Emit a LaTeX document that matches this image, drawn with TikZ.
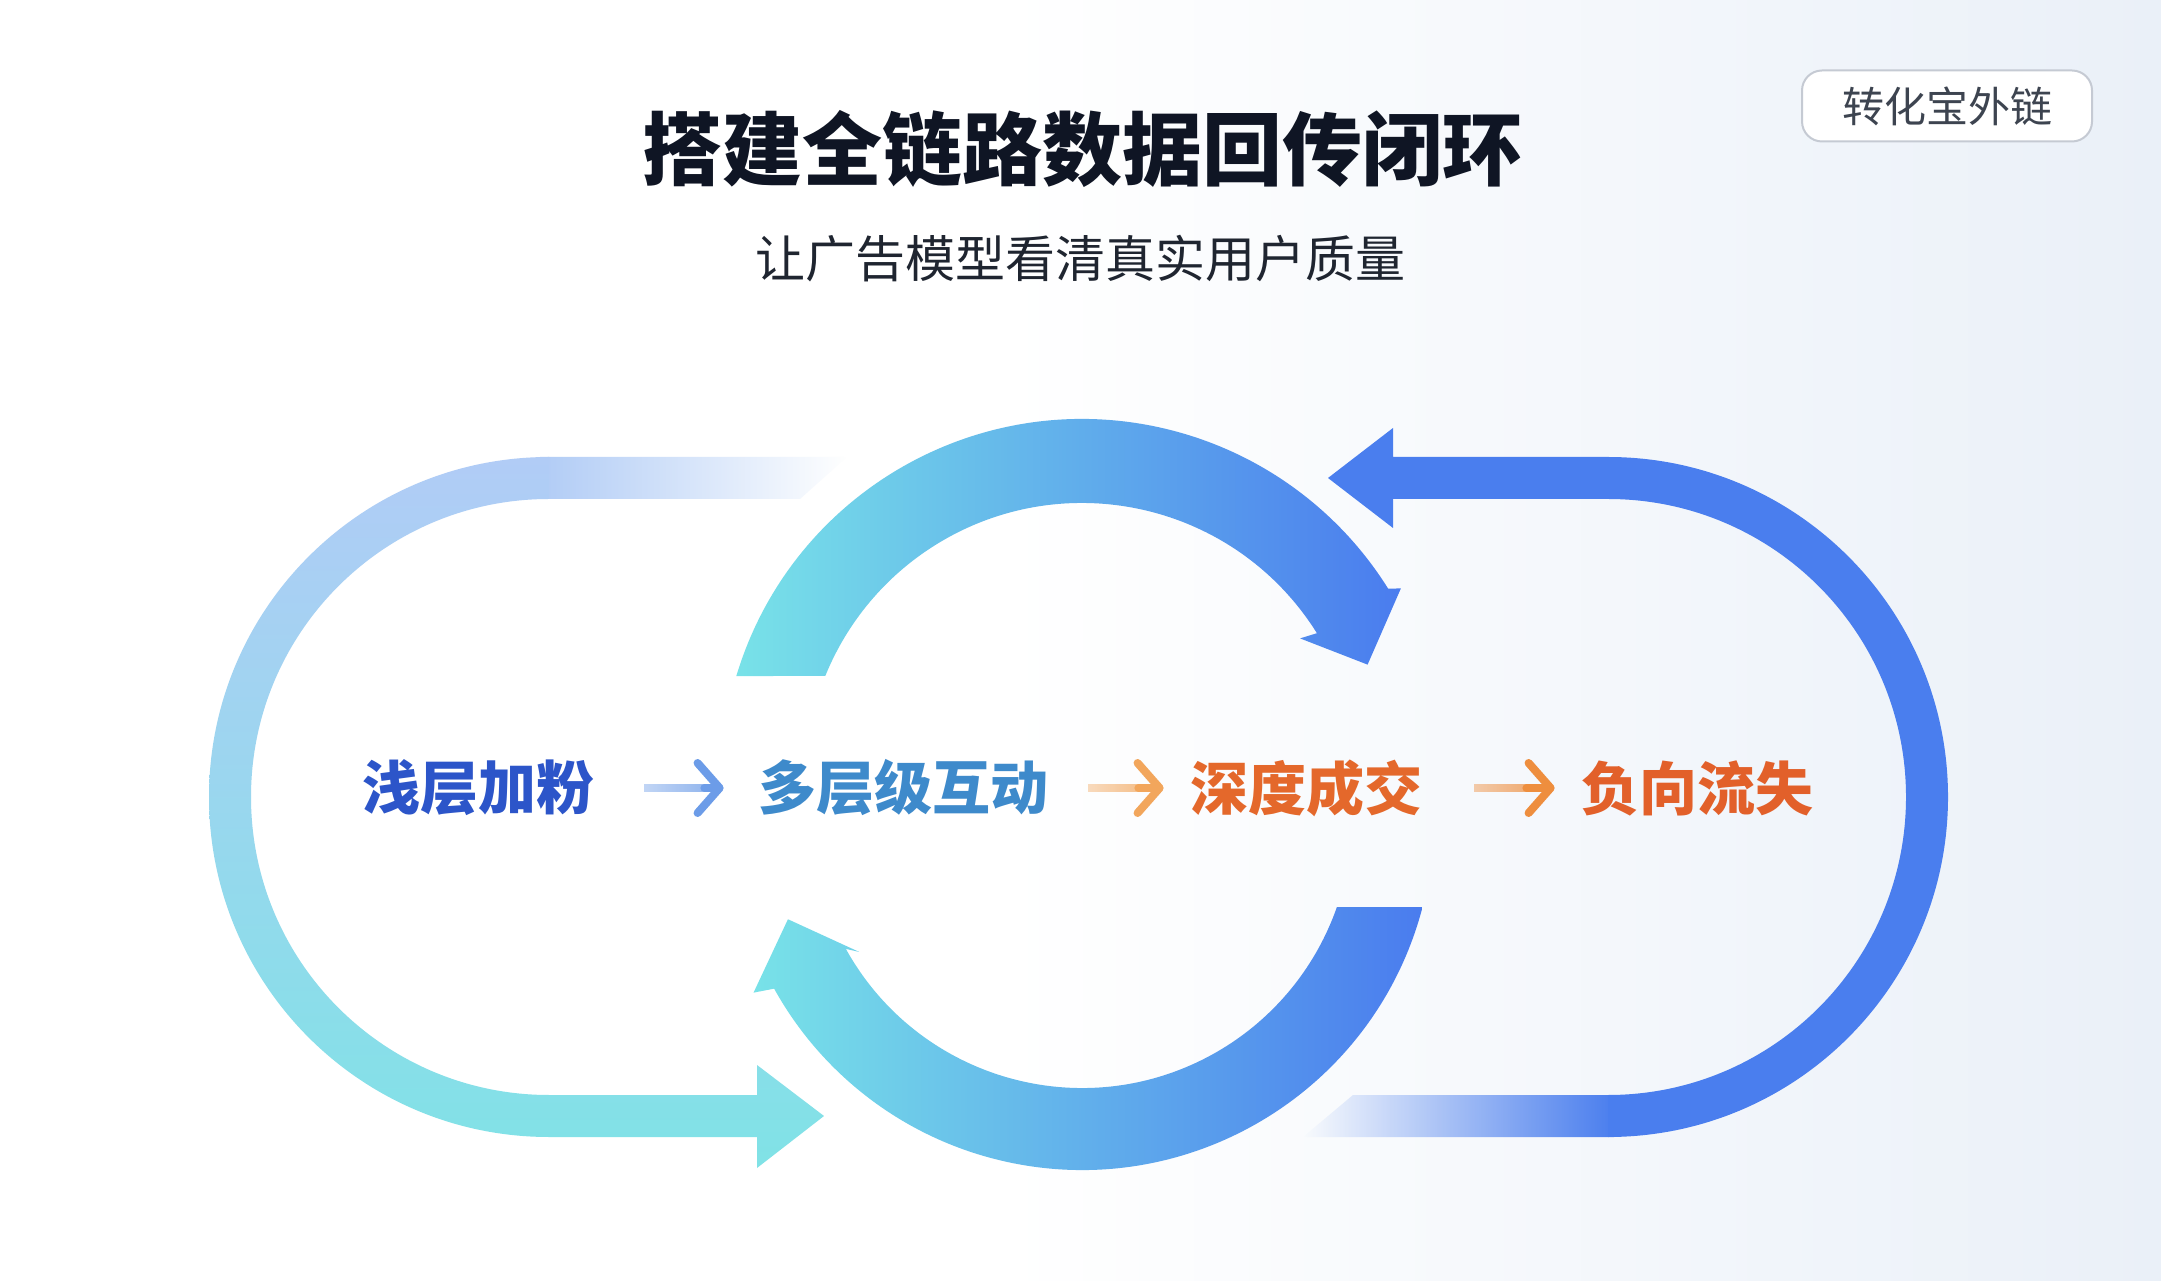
\documentclass[tikz,border=0pt]{standalone}
\usepackage{fontspec}
\setmainfont{Noto Sans CJK SC}
\usetikzlibrary{arrows.meta,fadings}

\definecolor{titleink}{HTML}{0F1524}
\definecolor{subink}{HTML}{1F2530}
\definecolor{tagink}{HTML}{3D4450}
\definecolor{tagline}{HTML}{C5CAD3}
\definecolor{bgblue}{HTML}{EAF0F8}
\definecolor{lctop}{HTML}{B1CCF6}
\definecolor{lcbot}{HTML}{80E2E6}
\definecolor{rcblue}{HTML}{4A7EEE}
\definecolor{arccyan}{HTML}{78E2E8}
\definecolor{arcmid}{HTML}{62BCEA}
\definecolor{arcblue}{HTML}{4A7CEE}
\definecolor{shallow}{HTML}{2C55C9}
\definecolor{multi}{HTML}{3E8ACB}
\definecolor{deal}{HTML}{E4682B}
\definecolor{churn}{HTML}{E2602A}
\definecolor{arrowblue}{HTML}{6C9CE8}
\definecolor{arrowpeach}{HTML}{F2A65C}
\definecolor{arroworange}{HTML}{EE8E3E}

\tikzfading[name=fadeout right, left color=transparent!0, right color=transparent!100]
\tikzfading[name=fadein right, left color=transparent!100, right color=transparent!0]
\tikzfading[name=arrowfade, left color=transparent!85, right color=transparent!0]

\tikzset{
  stage/.style={font=\bfseries\fontsize{29}{34}\selectfont, inner sep=0pt},
  flow/.style={line width=4pt, path fading=arrowfade},
  flowtip/.style={line width=4pt, line cap=round, -{Straight Barb[length=11pt,width=25pt,round]}},
  badge/.style={draw=tagline, line width=1pt, fill=white, rounded corners=10pt,
    minimum width=145pt, minimum height=35.5pt, text=tagink, font=\fontsize{21}{24}\selectfont}
}

\begin{document}
\begin{tikzpicture}[>=latex, x=0.5pt, y=0.5pt]
\fill[white] (0,0) rectangle (2161,1280);
\shade[left color=white, right color=bgblue] (1000,0) rectangle (2161,1280);

\node[text=titleink, font=\bfseries\fontsize{40}{46}\selectfont] (title) at (1082,1131) {搭建全链路数据回传闭环};
\node[text=subink, font=\fontsize{25}{30}\selectfont] (subtitle) at (1080,1021) {让广告模型看清真实用户质量};
\node[badge] (tag) at (1947,1174) {转化宝外链};

\fill[lctop, path fading=fadeout right] (540,781) -- (800,781) -- (847,823) -- (540,823) -- cycle;
\shade[top color=lctop, bottom color=lcbot] (549,823) arc[start angle=90, end angle=270, radius=340]
  -- (757,143) -- (757,112) -- (824,164) -- (757,215) -- (757,185) -- (549,185)
  arc[start angle=270, end angle=90, radius=298] -- cycle;

\fill[rcblue] (1393,823) -- (1608,823) arc[start angle=90, end angle=-90, radius=340]
  -- (1608,185) arc[start angle=-90, end angle=90, radius=298]
  -- (1393,781) -- (1393,752) -- (1328,802) -- (1393,852) -- cycle;
\fill[rcblue, path fading=fadein right] (1303,143) -- (1614,143) -- (1614,185) -- (1353,185) -- cycle;

\shade[left color=arccyan, middle color=arcmid, right color=arcblue]
  ([shift={(1082,500)}]163.26:361) arc[start angle=163.26, end angle=32, radius=361]
  -- ([shift={(1082,500)}]31:372) -- ([shift={(1082,500)}]22:308) -- ([shift={(1082,500)}]33:260)
  -- ([shift={(1082,500)}]32:277) arc[start angle=32, end angle=157.94, radius=277] -- cycle;

\shade[left color=arccyan, middle color=arcmid, right color=arcblue]
  ([shift={(1082,462)}]-14.65:352) arc[start angle=-14.65, end angle=-151, radius=352]
  -- ([shift={(1082,462)}]-152:372) -- ([shift={(1082,462)}]-161:311) -- ([shift={(1082,462)}]-149:260)
  -- ([shift={(1082,462)}]-151:270) arc[start angle=-151, end angle=-19.25, radius=270] -- cycle;

\node[stage, text=shallow] (s1) at (478,492) {浅层加粉};
\node[stage, text=multi] (s2) at (903,492) {多层级互动};
\node[stage, text=deal] (s3) at (1306,492) {深度成交};
\node[stage, text=churn] (s4) at (1697,492) {负向流失};

\draw[flow, draw=arrowblue, shorten <=25pt, shorten >=19pt] (s1) -- (s2);
\draw[flowtip, draw=arrowblue, shorten <=55pt, shorten >=17pt] (s1) -- (s2);
\draw[flow, draw=arrowpeach, shorten <=20pt, shorten >=15pt] (s2) -- (s3);
\draw[flowtip, draw=arrowpeach, shorten <=45pt, shorten >=13pt] (s2) -- (s3);
\draw[flow, draw=arroworange, shorten <=26pt, shorten >=15pt] (s3) -- (s4);
\draw[flowtip, draw=arroworange, shorten <=52pt, shorten >=13pt] (s3) -- (s4);
\end{tikzpicture}
\end{document}
